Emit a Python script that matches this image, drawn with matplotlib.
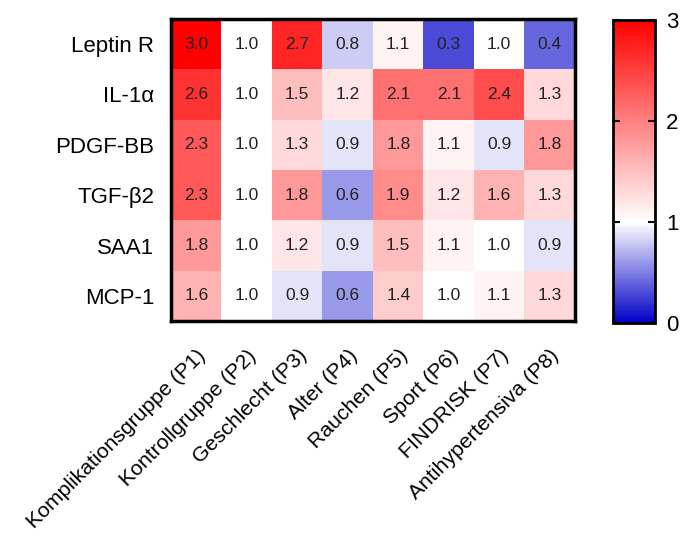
import matplotlib.pyplot as plt
import numpy as np
from matplotlib.colors import LinearSegmentedColormap

plt.rcParams['font.family'] = ['Liberation Sans', 'DejaVu Sans']

rows = ['Leptin R', 'IL-1α', 'PDGF-BB', 'TGF-β2', 'SAA1', 'MCP-1']
cols = ['Komplikationsgruppe (P1)', 'Kontrollgruppe (P2)', 'Geschlecht (P3)',
        'Alter (P4)', 'Rauchen (P5)', 'Sport (P6)', 'FINDRISK (P7)',
        'Antihypertensiva (P8)']

leptin = [3.0, 1.0, 2.7, 0.8, 1.1, 0.3, 1.0, 0.4]
il1a = [2.6, 1.0, 1.5, 1.2, 2.1, 2.1, 2.4, 1.3]
pdgf = [2.3, 1.0, 1.3, 0.9, 1.8, 1.1, 0.9, 1.8]
tgfb2 = [2.3, 1.0, 1.8, 0.6, 1.9, 1.2, 1.6, 1.3]
saa1 = [1.8, 1.0, 1.2, 0.9, 1.5, 1.1, 1.0, 0.9]
mcp1 = [1.6, 1.0, 0.9, 0.6, 1.4, 1.0, 1.1, 1.3]

data = np.array([leptin, il1a, pdgf, tgfb2, saa1, mcp1])

# blue at 0, white at 1, red at 3
cmap = LinearSegmentedColormap.from_list(
    'bwr3', [(0.0, (0, 0, 200/255)), (1/3, (1, 1, 1)), (1.0, (1, 0, 0))])

fig = plt.figure(figsize=(6.84, 5.34), dpi=100)
ax = fig.add_axes([171/684, 1-321/534, 404/684, 302/534])
im = ax.imshow(data, cmap=cmap, vmin=0, vmax=3, aspect='auto')

for i in range(data.shape[0]):
    for j in range(data.shape[1]):
        ax.text(j, i, '%.1f' % data[i, j], ha='center', va='center',
                fontsize=12.5, color='#222222')

ax.set_yticks(range(len(rows)))
ax.set_yticklabels(rows, fontsize=16)
ax.set_xticks(range(len(cols)))
ax.set_xticklabels(cols, fontsize=15.3, rotation=45, ha='right', va='top',
                   rotation_mode='anchor')
ax.tick_params(axis='y', length=0, pad=12)
ax.tick_params(axis='x', length=0, pad=18)
for s in ax.spines.values():
    s.set_linewidth(2.5)

cax = fig.add_axes([613/684, 1-323/534, 42/684, 303/534])
cb = fig.colorbar(im, cax=cax, ticks=[0, 1, 2, 3])
cb.outline.set_linewidth(2)
cax.tick_params(labelsize=16, direction='in', left=True, right=True,
                length=5, width=1.5, pad=8)

plt.savefig('out.png', dpi=100)
